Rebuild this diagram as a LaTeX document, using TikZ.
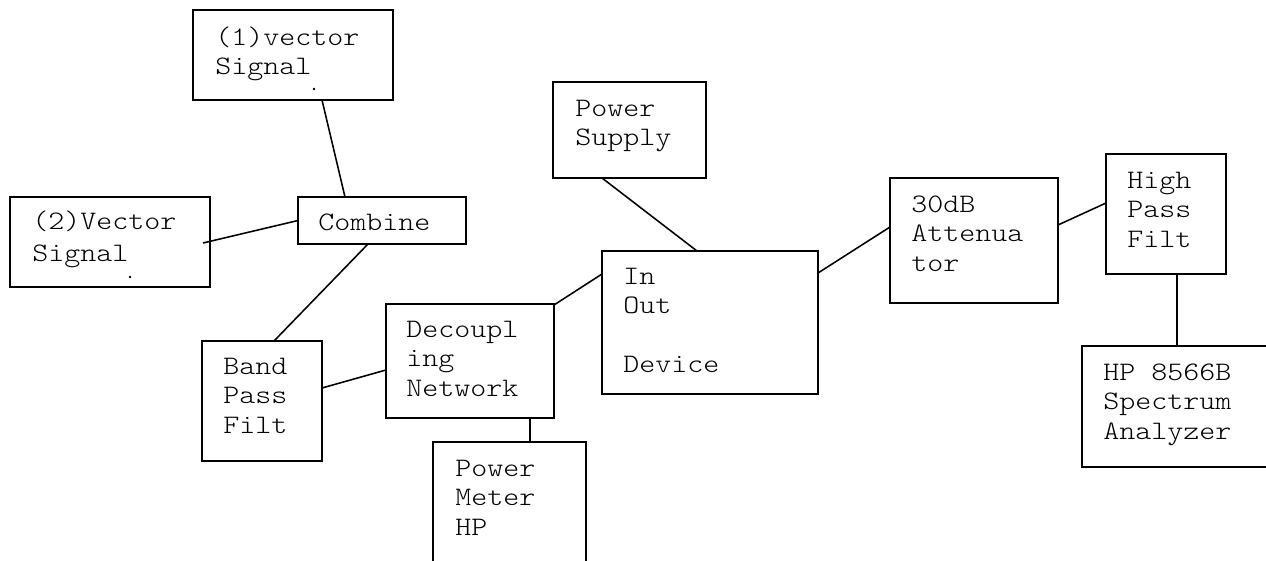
\documentclass[tikz,border=0pt]{standalone}
\usepackage{fontspec}
\newfontfamily\courfont[FakeStretch=1.143]{lmmonolt10-regular.otf}
\def\px{0.45pt}
\begin{document}
\begin{tikzpicture}[
    x=\px, y=-\px,
    box/.style={draw, line width=0.7pt, inner sep=0pt, outer sep=0pt, anchor=north west},
    txt/.style={font=\courfont\fontsize{12}{13.3}\selectfont, anchor=base west,
                inner sep=0pt, text width=120pt, align=left},
    wire/.style={line width=0.7pt},
  ]
    % page frame (1266 x 560 px, y grows downwards)
    \clip (0,0) rectangle (1266,560);

    % === Signal sources ===
    \node[box, minimum width=200*\px, minimum height=90*\px] (vsa) at (193,10) {};
    \node[txt] (vsat) at ([shift={(22,35)}]vsa.north west) {(1)vector\\Signal};
    \fill (314,89) circle[radius=0.6pt];

    \node[box, minimum width=200*\px, minimum height=90*\px] (vsb) at (10,197) {};
    \node[txt, font=\courfont\fontsize{12}{14.8}\selectfont] (vsbt) at ([shift={(22,32)}]vsb.north west) {(2)Vector\\Signal};
    \fill (130,277) circle[radius=0.6pt];

    \node[box, minimum width=168*\px, minimum height=47*\px] (comb) at (298,197) {};
    \node[txt] (combt) at ([shift={(20,33)}]comb.north west) {Combine};

    % === Input chain ===
    \node[box, minimum width=120*\px, minimum height=120*\px] (bpf) at (202,341) {};
    \node[txt] (bpft) at ([shift={(21,33)}]bpf.north west) {Band\\Pass\\Filt};

    \node[box, minimum width=168*\px, minimum height=114*\px] (dec) at (386,304) {};
    \node[txt] (dect) at ([shift={(20,33)}]dec.north west) {Decoupl\\ing\\Network};

    \node[box, minimum width=153*\px, minimum height=160*\px] (pm) at (433,442) {};
    \node[txt] (pmt) at ([shift={(22,34)}]pm.north west) {Power\\Meter\\HP};

    % === Device under test ===
    \node[box, minimum width=153*\px, minimum height=96*\px] (psu) at (553,82) {};
    \node[txt] (psut) at ([shift={(22,34)}]psu.north west) {Power\\Supply};

    \node[box, minimum width=216*\px, minimum height=143*\px] (dut) at (602,251) {};
    \node[txt] (dutt) at ([shift={(21,33)}]dut.north west) {In\\Out\\[\baselineskip]Device};

    % === Output chain ===
    \node[box, minimum width=168*\px, minimum height=125*\px] (att) at (890,178) {};
    \node[txt] (attt) at ([shift={(21,34)}]att.north west) {30dB\\Attenua\\tor};

    \node[box, minimum width=120*\px, minimum height=120*\px] (hpf) at (1106,154) {};
    \node[txt] (hpft) at ([shift={(21,34)}]hpf.north west) {High\\Pass\\Filt};

    \node[box, minimum width=210*\px, minimum height=121*\px] (sa) at (1082,346) {};
    \node[txt] (sat) at ([shift={(21,34)}]sa.north west) {HP\hspace{7.2pt}8566B\\Spectrum\\Analyzer};

    % === Connections ===
    \draw[wire] ([shift={(29,0)}]vsa.south) -- ([shift={(-37,0)}]comb.north);
    \draw[wire] ([shift={(-7,1)}]vsb.east) -- (comb.west);
    \draw[wire] ([shift={(-14,0)}]comb.south) -- ([shift={(12,0)}]bpf.north);
    \draw[wire] ([shift={(0,-13)}]bpf.east) -- ([shift={(0,9)}]dec.west);
    \draw[wire] ([shift={(0,1)}]dec.north east) -- ([shift={(0,23)}]dut.north west);
    \draw[wire] ([shift={(60,0)}]dec.south) coordinate (decpm) -- (decpm |- pm.north);
    \draw[wire] ([shift={(-27.5,0)}]psu.south) -- ([shift={(-13,0)}]dut.north);
    \draw[wire] ([shift={(0,22)}]dut.north east) -- ([shift={(0,-13.5)}]att.west);
    \draw[wire] ([shift={(0,-15.5)}]att.east) -- ([shift={(0,-11)}]hpf.west);
    \draw[wire] ([shift={(11,0)}]hpf.south) coordinate (hpfsa) -- (hpfsa |- sa.north);
\end{tikzpicture}
\end{document}
